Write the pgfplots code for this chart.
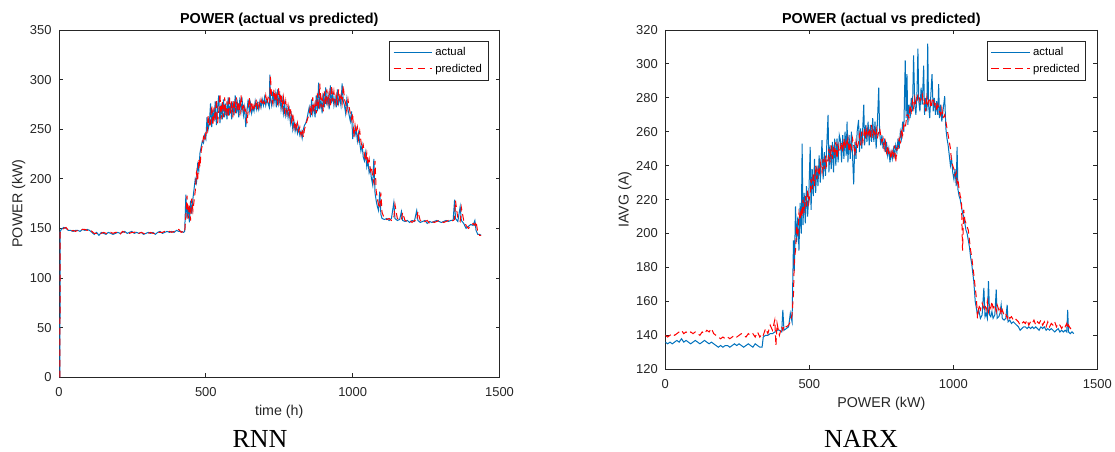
\documentclass[border=0pt]{standalone}
\usepackage{fontspec}
\setmainfont{Liberation Sans}
\newfontfamily\seriffont{Liberation Serif}
\usepackage{pgfplots}
\usepackage{pgfplotstable}
\pgfplotsset{compat=1.18}
\definecolor{mblue}{rgb}{0,0.447,0.741}
\definecolor{axgray}{HTML}{262626}

\pgfplotstableread{
x act pred
3 0 0
4 147 146
8 149 148
16 151 150
24 150 151
32 148 148
40 148 147
48 147 148
56 148 147
64 148 148
72 147 148
80 149 149
88 148 149
96 149 148
104 148 149
112 146 147
120 144 145
128 146 145
136 143 144
144 146 145
152 145 146
160 144 145
168 146 145
176 145 146
184 144 145
192 145 146
200 146 146
208 145 144
216 146 147
224 147 146
232 145 146
240 146 145
248 147 146
256 145 146
264 146 147
272 145 145
280 146 146
288 144 145
296 145 144
304 146 145
312 145 146
320 146 145
328 144 145
336 146 146
344 147 146
352 145 146
360 146 147
368 147 146
376 146 147
384 147 146
392 146 147
400 148 147
408 147 149
416 147 146
424 146 147
428 147 146
432 184 163
436 160 183
440 172 160
444 156 175
448 178 158
452 165 180
456 180 168
460 190 178
464 200 188
468 196 206
472 214 198
476 208 220
480 226 212
484 232 228
488 238 234
492 236 242
496 244 238
500 240 246
504 262 244
508 250 264
512 256 252
516 276 256
520 252 274
524 270 254
528 258 272
532 278 258
536 254 280
540 272 256
544 284 268
548 256 286
552 276 260
556 260 278
560 280 262
564 262 282
568 276 264
572 260 278
576 282 262
580 264 284
584 276 266
588 260 278
592 278 262
596 264 280
600 284 266
604 266 282
608 276 268
612 262 278
616 282 264
620 268 284
624 278 270
628 264 276
632 272 266
636 252 270
640 268 256
644 280 268
648 268 282
652 276 270
656 266 278
660 272 268
664 268 274
668 278 270
672 270 280
676 276 272
680 270 278
684 278 272
688 272 280
692 280 274
696 274 278
700 282 276
704 274 284
708 280 276
712 276 282
716 272 280
718 305 276
720 280 304
724 274 282
728 288 276
732 276 290
736 286 278
740 272 288
744 290 274
748 276 292
752 284 278
756 270 286
760 280 272
764 266 282
768 276 268
772 264 278
776 272 266
780 262 274
784 270 264
788 256 272
792 264 258
796 250 266
800 258 252
804 248 258
808 254 248
812 246 256
816 252 248
820 244 252
824 248 244
828 241 250
832 250 242
836 254 250
840 256 254
844 260 258
848 266 262
852 272 264
856 262 274
860 280 264
864 266 282
868 274 268
872 262 276
876 284 266
880 268 286
884 297 270
888 270 296
892 280 272
896 266 282
900 286 268
904 272 288
908 292 274
912 274 290
916 284 276
920 270 286
924 294 272
928 276 294
932 286 278
936 274 288
940 282 276
944 272 284
948 290 274
952 276 290
956 282 278
960 274 284
964 296 276
968 278 294
972 274 280
976 266 276
980 280 268
984 270 280
988 264 272
992 258 266
996 268 260
1000 240 266
1004 252 242
1008 244 254
1012 250 246
1016 238 252
1020 246 240
1024 236 248
1028 228 238
1032 234 230
1036 222 234
1040 218 224
1044 226 218
1048 212 226
1052 218 214
1056 206 220
1060 210 208
1064 200 212
1068 194 202
1072 220 196
1076 186 218
1080 178 188
1084 172 180
1088 168 174
1092 187 170
1096 164 186
1100 160 166
1108 159 160
1116 160 159
1124 158 160
1132 160 158
1140 176 160
1144 160 174
1152 158 160
1160 159 158
1166 167 159
1170 158 166
1178 157 158
1186 158 157
1194 156 158
1202 158 156
1210 157 158
1218 168 157
1222 158 167
1230 156 158
1238 157 156
1246 158 157
1254 155 158
1262 157 155
1270 156 157
1278 157 156
1286 158 157
1294 157 158
1302 156 157
1310 157 156
1318 158 157
1326 157 158
1334 158 157
1342 158 158
1347 179 159
1350 160 178
1358 157 160
1366 172 157
1370 158 171
1378 155 158
1386 150 153
1394 152 150
1402 154 152
1410 153 155
1416 158 153
1420 148 157
1426 144 146
1432 144 143
1437 143 143
}\rnndata

\pgfplotstableread{
x act pred
0 136 140
8 135 139
16 136 140
24 135 141
32 136 140
40 137 141
48 136 142
56 138 143
64 136 141
72 137 142
80 136 141
88 135 142
96 136 141
104 137 142
112 136 141
120 135 140
128 136 142
136 137 141
144 136 143
152 135 142
160 136 144
168 135 141
176 134 140
184 133 139
192 134 138
200 133 139
208 134 138
216 134 139
224 133 138
232 134 139
240 135 140
248 134 139
256 135 140
264 134 141
272 133 140
280 134 139
288 135 141
296 134 140
304 133 141
312 135 139
320 134 142
328 133 139
336 133 141
340 139 140
348 140 144
356 140 141
364 141 146
372 141 143
380 142 149
384 142 134
388 143 147
396 143 140
404 142 145
408 155 143
412 143 146
420 144 145
428 145 146
434 153 148
440 148 152
445 196 165
448 178 185
452 216 190
456 195 205
460 210 198
464 190 212
468 218 208
472 200 215
475 253 210
478 205 220
482 224 212
486 206 222
490 228 216
494 210 226
498 222 218
503 251 224
506 214 232
510 238 226
514 222 236
518 244 228
522 224 240
526 240 232
530 228 238
534 246 234
538 230 242
544 255 236
548 232 244
552 248 238
556 234 246
560 250 240
565 270 244
568 236 250
572 252 242
576 238 252
580 254 244
584 236 250
588 256 246
592 240 254
596 256 244
600 242 252
604 258 248
608 255 250
612 242 254
616 258 248
620 244 256
624 260 250
628 246 254
631 266 252
634 242 256
638 258 248
642 244 254
646 260 250
650 246 256
654 229 252
658 254 246
662 244 254
666 260 250
671 267 254
674 248 258
678 262 252
682 250 260
686 264 254
689 276 258
692 252 262
696 264 256
700 254 262
704 266 258
708 252 262
712 264 256
716 254 264
720 268 258
724 254 262
728 266 258
732 250 262
736 264 256
741 286 260
744 260 262
748 252 258
752 258 254
756 250 256
760 256 250
764 248 254
768 254 248
772 246 252
776 250 246
780 242 248
784 248 244
788 244 250
792 250 246
796 246 252
800 252 242
804 248 250
808 256 250
812 250 256
816 260 254
820 256 262
824 266 258
828 260 264
833 302 262
836 268 266
839 294 270
842 264 270
846 276 268
850 268 276
854 280 272
858 272 278
862 305 274
866 276 280
870 270 276
874 284 278
877 309 282
880 278 282
884 272 278
888 286 280
892 276 282
897 299 276
900 270 278
904 280 272
908 272 280
911 312 276
914 276 278
918 268 280
922 282 274
926 294 278
930 272 280
934 280 276
938 270 278
942 278 272
946 270 276
949 288 274
952 268 272
956 276 270
960 266 274
964 272 268
970 281 270
974 262 266
978 256 262
982 252 258
986 246 254
990 240 250
994 244 242
998 236 240
1002 232 238
1006 238 234
1010 228 236
1013 251 230
1016 226 232
1020 222 226
1024 220 222
1028 216 220
1032 212 190
1036 210 214
1040 206 208
1044 202 206
1048 200 204
1052 196 202
1056 192 196
1060 186 190
1064 182 186
1068 176 180
1071 172 176
1076 160 168
1080 156 162
1084 152 150
1088 155 158
1094 150 155
1100 152 159
1106 168 156
1110 151 158
1114 153 155
1118 150 160
1122 172 154
1126 152 158
1130 151 156
1134 154 160
1138 150 156
1144 152 158
1149 167 154
1152 150 158
1158 151 155
1162 153 157
1166 158 152
1170 150 155
1176 149 152
1182 150 153
1187 158 150
1190 148 152
1196 149 150
1202 147 151
1208 148 149
1214 147 150
1220 146 149
1226 145 148
1232 143 146
1238 144 147
1244 145 148
1250 145 147
1256 144 149
1262 145 146
1268 144 148
1274 145 147
1280 144 149
1286 145 146
1292 144 148
1298 143 147
1304 145 149
1310 144 146
1316 145 148
1322 143 145
1328 144 148
1334 143 145
1340 144 147
1346 143 146
1352 142 148
1358 143 145
1364 144 147
1370 142 146
1376 143 144
1382 142 146
1388 143 145
1394 142 147
1397 155 144
1400 142 146
1406 141 144
1412 142 145
1418 141 145
}\narxdata

\pgfplotsset{
  mlstyle/.style={
    scale only axis,
    anchor=south west,
    xmin=0, xmax=1500,
    xtick={0,500,1000,1500},
    tick align=inside,
    xtick pos=both, ytick pos=both,
    major tick length=3pt,
    axis line style={axgray, line width=0.6pt},
    tick style={axgray, line width=0.6pt},
    scaled ticks=false,
    /pgf/number format/assume math mode=true,
    /pgf/number format/1000 sep={},
    ticklabel style={font=\fontsize{9.7}{11}\selectfont, text=axgray},
    xticklabel style={anchor=base, yshift=-14.6pt},
    yticklabel style={anchor=east, xshift=-2.1pt},
    xlabel style={font=\fontsize{10.7}{12}\selectfont, text=axgray,
      at={(axis description cs:0.5,0)}, anchor=base, yshift=-28.7pt},
    ylabel style={font=\fontsize{10.7}{12}\selectfont, text=axgray,
      at={([xshift=-27.5pt]axis description cs:0,0.5)}, anchor=base},
    every axis title shift=0pt,
    title style={font=\fontsize{10.8}{12}\selectfont\bfseries, text=black,
      at={(0.5,1)}, anchor=base, yshift=4.6pt},
    legend style={at={(1,1)}, anchor=north east, xshift=-8.4pt, yshift=-8pt,
      draw=axgray, line width=0.5pt, fill=white,
      font=\fontsize{8.5}{10}\selectfont, inner xsep=2.5pt, inner ysep=2.5pt,
      row sep=1pt},
    legend cell align=left,
  },
  actstyle/.style={color=mblue, line width=0.75pt, no markers,
    legend image code/.code={\draw[color=mblue, line width=0.75pt] (0pt,0pt) -- (29pt,0pt);}},
  predstyle/.style={color=red, line width=0.75pt, dash pattern=on 5pt off 3pt, no markers,
    legend image code/.code={\draw[color=red, line width=0.75pt, dash pattern=on 5.5pt off 3.5pt] (0pt,0pt) -- (29pt,0pt);}},
}

\begin{document}
\begin{tikzpicture}
\useasboundingbox (0,0) rectangle (836.25pt,338.25pt);

\begin{axis}[mlstyle,
  at={(44.25pt,55.3pt)}, width=330.4pt, height=260.5pt,
  ymin=0, ymax=350, ytick={0,50,...,350},
  title={POWER (actual vs predicted)},
  xlabel={time (h)}, ylabel={POWER (kW)}]
\addplot[actstyle] table[x=x, y=act] {\rnndata};
\addlegendentry{actual}
\addplot[predstyle] table[x=x, y=pred] {\rnndata};
\addlegendentry{predicted}
\end{axis}

\begin{axis}[mlstyle,
  at={(499pt,61.3pt)}, width=324pt, height=254.5pt,
  ymin=120, ymax=320, ytick={120,140,...,320},
  title={POWER (actual vs predicted)},
  xlabel={POWER (kW)}, ylabel={IAVG (A)}]
\addplot[actstyle] table[x=x, y=act] {\narxdata};
\addlegendentry{actual}
\addplot[predstyle] table[x=x, y=pred] {\narxdata};
\addlegendentry{predicted}
\end{axis}

\node[anchor=base, inner sep=0pt, font=\seriffont\fontsize{19.5}{21}\selectfont] at (195pt,3pt) {RNN};
\node[anchor=base, inner sep=0pt, font=\seriffont\fontsize{19.5}{21}\selectfont] at (645.75pt,3pt) {NARX};
\end{tikzpicture}
\end{document}
